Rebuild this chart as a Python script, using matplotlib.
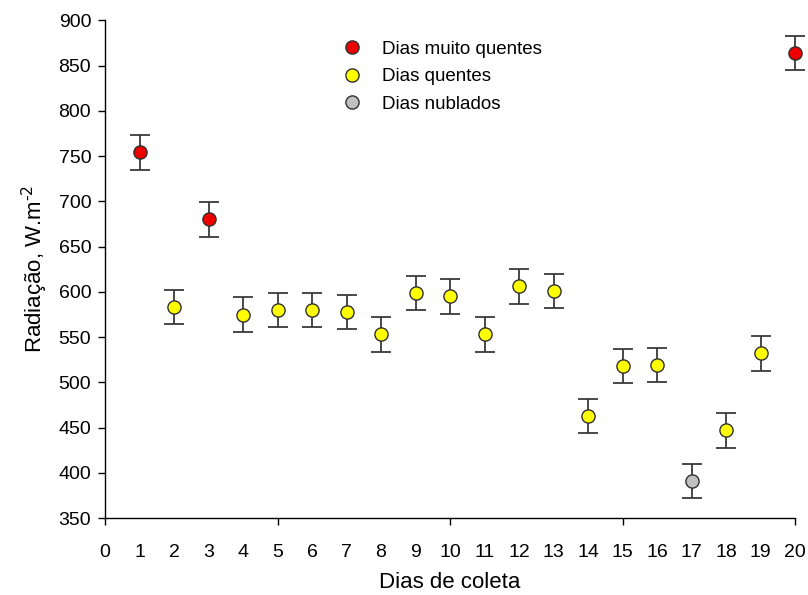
import matplotlib
matplotlib.use("Agg")
import matplotlib.pyplot as plt

plt.rcParams['font.family'] = ['Liberation Sans', 'DejaVu Sans']

# Mean radiation per collection day (W.m-2) and its error
days = list(range(1, 21))
radiation = [754, 583, 680, 575, 580, 580, 578, 553, 599, 595,
             553, 606, 601, 463, 518, 519, 391, 447, 532, 864]
error = [19] * 20
# Day class: 'mq' very hot, 'q' hot, 'n' cloudy
day_class = ['mq', 'q', 'mq', 'q', 'q', 'q', 'q', 'q', 'q', 'q',
             'q', 'q', 'q', 'q', 'q', 'q', 'n', 'q', 'q', 'mq']

classes = ['mq', 'q', 'n']
class_labels = ['Dias muito quentes', 'Dias quentes', 'Dias nublados']
class_colors = ['#ee0000', '#ffff00', '#c0c0c0']

xticks = list(range(0, 21))
yticks = list(range(350, 901, 50))

fig = plt.figure(figsize=(8.08, 5.95), dpi=100)
ax = fig.add_axes([0.130, 0.129, 0.854, 0.837])

ax.errorbar(days, radiation, yerr=error, fmt='none', ecolor='#3a3a3a',
            elinewidth=1.3, capsize=7, capthick=1.3, zorder=2, clip_on=False)

for c, lab, col in zip(classes, class_labels, class_colors):
    xs = [d for d, k in zip(days, day_class) if k == c]
    ys = [r for r, k in zip(radiation, day_class) if k == c]
    ax.plot(xs, ys, 'o', ms=9.5, mfc=col, mec='#303030', mew=1.0,
            label=lab, zorder=3, clip_on=False)

ax.set_xlim(0, 20)
ax.set_ylim(350, 900)
ax.set_xticks([0, 5, 10, 15, 20])
ax.set_xticks(xticks, minor=True)
ax.set_xticklabels([])
for x in xticks:
    ax.text(x, -0.052, str(x), transform=ax.get_xaxis_transform(),
            ha='center', va='top', fontsize=14)
ax.tick_params(axis='x', which='minor', length=0)
ax.tick_params(axis='x', which='major', length=5, width=1, direction='out')
ax.set_yticks(yticks)
ax.tick_params(axis='y', length=5, width=1, direction='out', labelsize=14, pad=5)

for s in ['top', 'right']:
    ax.spines[s].set_visible(False)
for s in ['left', 'bottom']:
    ax.spines[s].set_linewidth(1.0)

ax.set_xlabel('Dias de coleta', fontsize=16, labelpad=30)
ax.set_ylabel('Radiação, W.m$^{\\text{-2}}$', fontsize=16, labelpad=6)

ax.legend(loc='upper left', bbox_to_anchor=(0.325, 0.985), frameon=False,
          fontsize=13.5, handletextpad=1.1, labelspacing=0.55,
          handlelength=1.0, borderaxespad=0.3)

fig.savefig('out.png', dpi=100)
